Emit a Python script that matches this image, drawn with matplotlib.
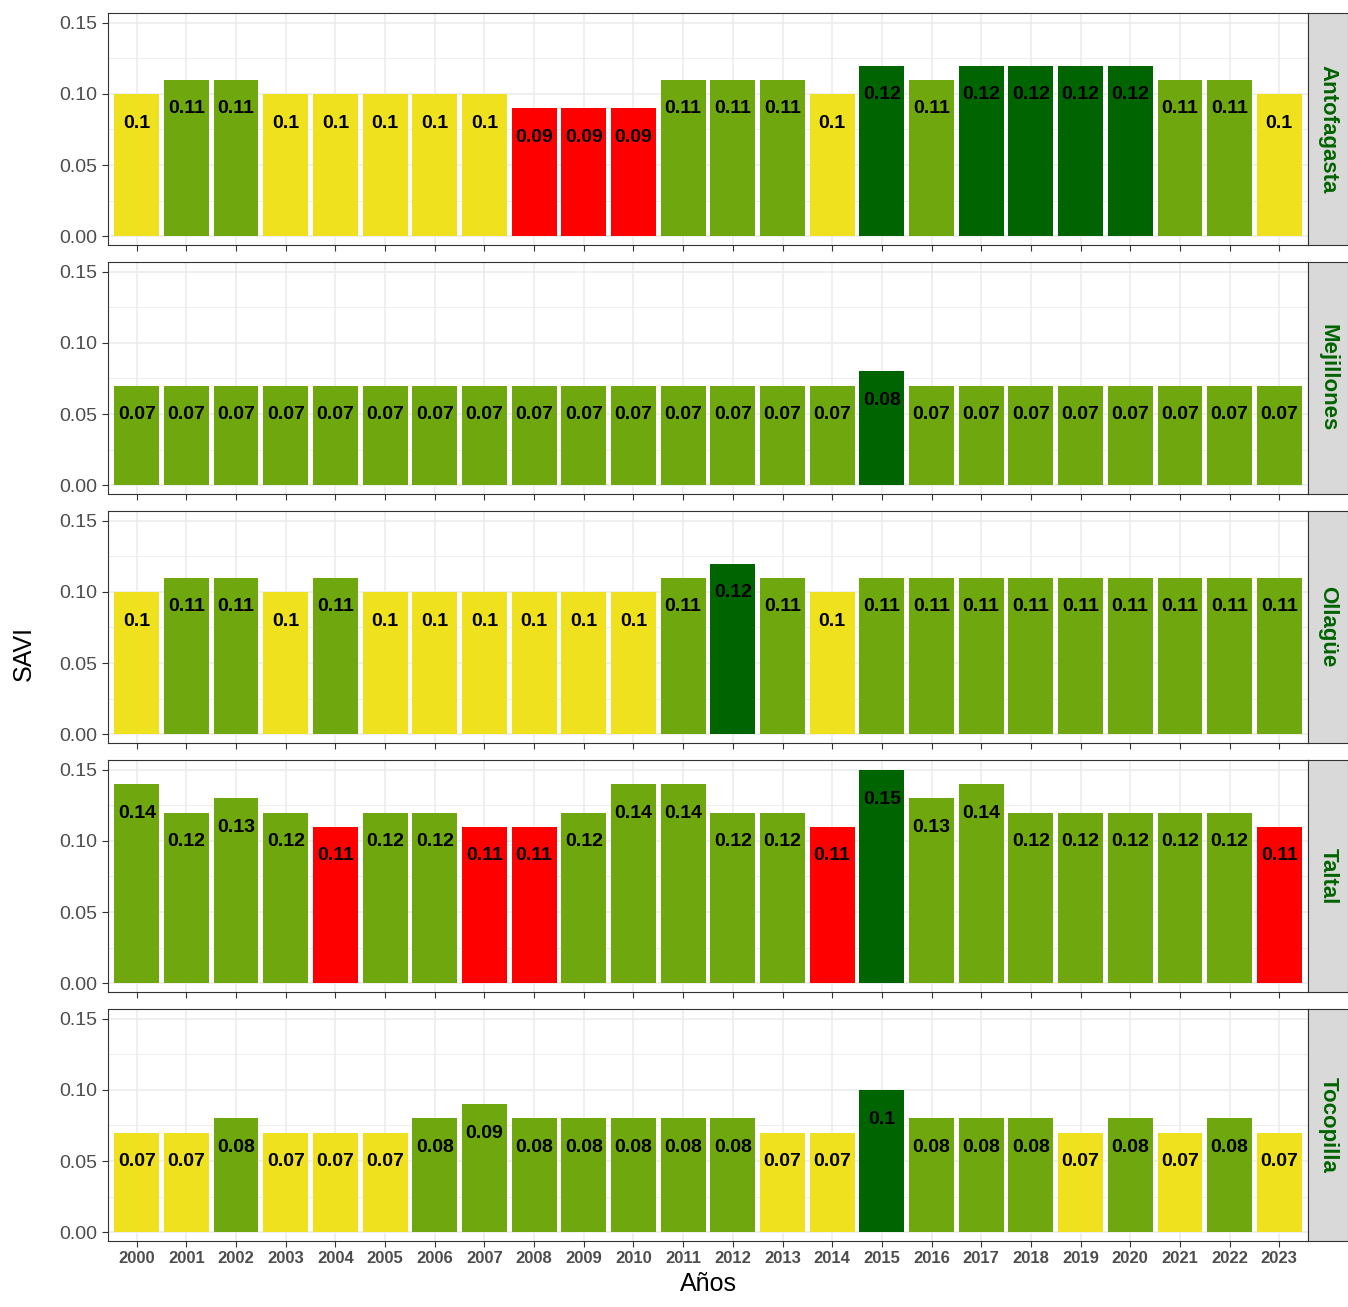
import matplotlib
matplotlib.use('Agg')
import matplotlib.pyplot as plt
from matplotlib.ticker import MultipleLocator
import numpy as np

plt.rcParams['font.family'] = ['Liberation Sans', 'DejaVu Sans']

years = list(range(2000, 2024))
comunas = ['Antofagasta', 'Mejillones', 'Ollagüe', 'Taltal', 'Tocopilla']
savi = {
    'Antofagasta': [0.1, 0.11, 0.11, 0.1, 0.1, 0.1, 0.1, 0.1, 0.09, 0.09, 0.09, 0.11,
                    0.11, 0.11, 0.1, 0.12, 0.11, 0.12, 0.12, 0.12, 0.12, 0.11, 0.11, 0.1],
    'Mejillones': [0.07] * 15 + [0.08] + [0.07] * 8,
    'Ollagüe': [0.1, 0.11, 0.11, 0.1, 0.11, 0.1, 0.1, 0.1, 0.1, 0.1, 0.1, 0.11,
                0.12, 0.11, 0.1] + [0.11] * 9,
    'Taltal': [0.14, 0.12, 0.13, 0.12, 0.11, 0.12, 0.12, 0.11, 0.11, 0.12, 0.14, 0.14,
               0.12, 0.12, 0.11, 0.15, 0.13, 0.14, 0.12, 0.12, 0.12, 0.12, 0.12, 0.11],
    'Tocopilla': [0.07, 0.07, 0.08, 0.07, 0.07, 0.07, 0.08, 0.09, 0.08, 0.08, 0.08, 0.08,
                  0.08, 0.07, 0.07, 0.1, 0.08, 0.08, 0.08, 0.07, 0.08, 0.07, 0.08, 0.07],
}
# clase de color por comuna: valor -> clase
clases = {
    'Antofagasta': {0.09: 'bajo', 0.1: 'medio', 0.11: 'alto', 0.12: 'max'},
    'Mejillones': {0.07: 'alto', 0.08: 'max'},
    'Ollagüe': {0.1: 'medio', 0.11: 'alto', 0.12: 'max'},
    'Taltal': {0.11: 'bajo', 0.12: 'alto', 0.13: 'alto', 0.14: 'alto', 0.15: 'max'},
    'Tocopilla': {0.07: 'medio', 0.08: 'alto', 0.09: 'alto', 0.1: 'max'},
}
colores = {'bajo': '#FF0000', 'medio': '#F0E11E', 'alto': '#6FA70F', 'max': '#006400'}

fig = plt.figure(figsize=(13.48, 13.07), dpi=100)
W, H = 1348, 1307
tops = [13, 262, 511, 760, 1009]
ph = 232
left, right = 108, 1308

for i, c in enumerate(comunas):
    ax = fig.add_axes([left / W, 1 - (tops[i] + ph) / H, (right - left) / W, ph / H])
    vals = savi[c]
    cols = [colores[clases[c][v]] for v in vals]
    ax.bar(years, vals, width=0.9, color=cols, zorder=2)
    for x, v in zip(years, vals):
        ax.annotate(f'{v:g}', (x, v), xytext=(0, -21), textcoords='offset points',
                    ha='center', va='center', fontsize=14, fontweight='bold', zorder=3)
    ax.set_xlim(1999.42, 2023.58)
    ax.set_ylim(-0.0063, 0.157)
    ax.yaxis.set_major_locator(MultipleLocator(0.05))
    ax.yaxis.set_minor_locator(MultipleLocator(0.025))
    ax.set_xticks(years)
    ax.grid(True, which='major', color='#EBEBEB', lw=1.1, zorder=0)
    ax.grid(True, which='minor', axis='y', color='#EBEBEB', lw=0.6, zorder=0)
    ax.tick_params(which='minor', length=0)
    ax.tick_params(which='major', length=4, color='#333333', labelsize=14, labelcolor='#4D4D4D')
    ax.yaxis.set_major_formatter(matplotlib.ticker.FormatStrFormatter('%.2f'))
    for s in ax.spines.values():
        s.set_color('#333333')
    if i < 4:
        ax.set_xticklabels([])
    else:
        ax.set_xticklabels([str(y) for y in years], fontsize=12, fontweight='bold', color='#4D4D4D')
        ax.set_xlabel('Años', fontsize=18, labelpad=4)
    # strip
    sx = fig.add_axes([right / W, 1 - (tops[i] + ph) / H, 40 / W, ph / H])
    sx.set_facecolor('#D9D9D9')
    sx.set_xticks([]); sx.set_yticks([])
    for s in sx.spines.values():
        s.set_color('#333333')
    sx.text(0.5, 0.5, c, rotation=-90, ha='center', va='center', fontsize=16,
            fontweight='bold', color='#006400', transform=sx.transAxes)

fig.text(24 / W, 0.5, 'SAVI', rotation=90, ha='center', va='center', fontsize=18)
fig.savefig('out.png', dpi=100)
